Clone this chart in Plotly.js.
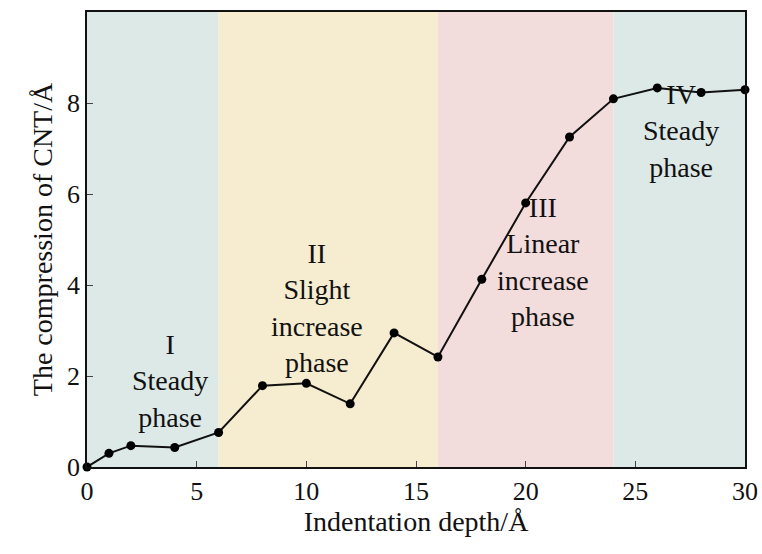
<!DOCTYPE html><html><head><script src="https://cdn.plot.ly/plotly-3.0.1.min.js"></script></head><body style="margin:0">
<div id="c" style="width:762px;height:554px"></div>
<script>
const depth=[0,1,2,4,6,8,10,12,14,16,18,20,22,24,26,28,30];
const compression=[0,0.3,0.47,0.43,0.76,1.79,1.84,1.39,2.95,2.42,4.13,5.81,7.26,8.1,8.34,8.24,8.3];
const phaseBounds=[[0,6],[6,16],[16,24],[24,30]];
const phaseColors=['#dde9e6','#f6ecd0','#f3dcdc','#dde9e6'];
const labels=[{x:3.8,y:1.9,t:'I<br>Steady<br>phase'},{x:10.5,y:3.5,t:'II<br>Slight<br>increase<br>phase'},{x:20.8,y:4.5,t:'III<br>Linear<br>increase<br>phase'},{x:27.1,y:7.4,t:'IV<br>Steady<br>phase'}];
const F='Liberation Serif, Times New Roman, serif';
Plotly.newPlot('c',[{x:depth,y:compression,mode:'lines+markers',line:{color:'#111',width:2},marker:{color:'#000',size:9},cliponaxis:false}],{
width:762,height:554,margin:{l:87,r:17,t:12,b:87},paper_bgcolor:'#fff',plot_bgcolor:'#fff',showlegend:false,
font:{family:F,size:26,color:'#111'},
xaxis:{range:[0,30],dtick:5,ticks:'inside',ticklen:6,showgrid:false,zeroline:false,showline:true,mirror:true,linecolor:'#111',linewidth:1.5,title:{text:'Indentation depth/Å',font:{family:F,size:28},standoff:4},tickfont:{family:F,size:26}},
yaxis:{range:[0,10.01],tickvals:[0,2,4,6,8,10],ticks:'inside',ticklen:6,showgrid:false,zeroline:false,showline:true,mirror:true,linecolor:'#111',linewidth:1.5,title:{text:'The compression of CNT/Å',font:{family:F,size:28},standoff:6},tickfont:{family:F,size:26}},
shapes:phaseBounds.map((b,i)=>({type:'rect',xref:'x',yref:'y',x0:b[0],x1:b[1],y0:0,y1:10.01,fillcolor:phaseColors[i],line:{width:0},layer:'below'})),
annotations:labels.map(l=>({x:l.x,y:l.y,text:l.t,showarrow:false,font:{family:F,size:28,color:'#111'}}))
},{displayModeBar:false});
</script></body></html>
